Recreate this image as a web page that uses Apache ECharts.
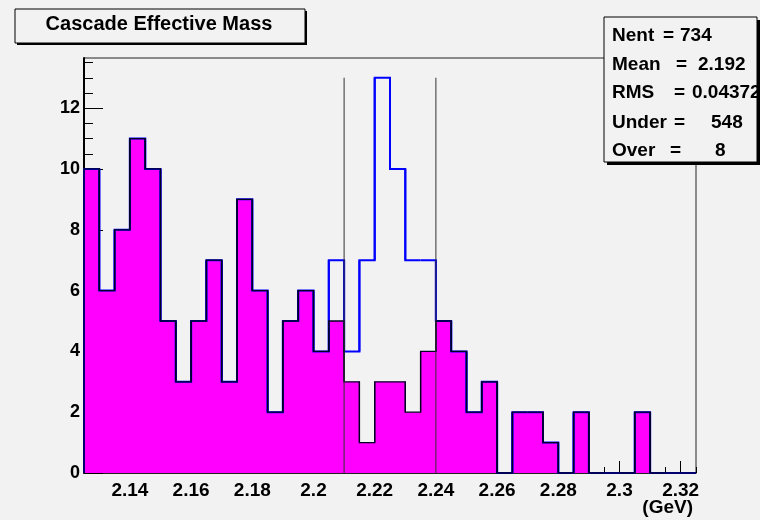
<!DOCTYPE html>
<html><head><meta charset="utf-8">
<script src="https://cdn.jsdelivr.net/npm/echarts@6/dist/echarts.min.js"></script>
<style>html,body{margin:0;padding:0;background:#f2f2f2}#c{width:760px;height:520px}</style>
</head><body><div id="c"></div>
<script>
// ---- data ----
const binStart = 2.125;
const binWidth = 0.005;
const sidebandCounts = [10,6,8,11,10,5,3,5,7,3,9,6,2,5,6,4,5,3,1,3,3,2,4,5,4,2,3,0,2,2,1,0,2,0,0,0,2,0,0,0];
const allCounts      = [10,6,8,11,10,5,3,5,7,3,9,6,2,5,6,4,7,4,7,13,10,7,7,5,4,2,3,0,2,2,1,0,2,0,0,0,2,0,0,0];
const cutLines = [2.21, 2.24];
const cutHeight = 13;
const xTickLabels = [2.14,2.16,2.18,2.2,2.22,2.24,2.26,2.28,2.3,2.32];
const yTickLabels = [0,2,4,6,8,10,12];
const xMin = 2.125, xMax = 2.325, yMax = 13.65;
const titleText = 'Cascade Effective Mass';
const statsLabels = ['Nent','Mean','RMS','Under','Over'];
const statsValues = ['734','2.192','0.04372','548','8'];
const axisUnit = '(GeV)';

// ---- derived ----
const nBins = allCounts.length;
const edge = i => Math.round((binStart + i*binWidth)*1e6)/1e6;
function histData(counts){
  return counts.map((v,i)=>[edge(i), edge(i+1), v, i+1<counts.length?counts[i+1]:0, i>0?counts[i-1]:0]);
}
const xMinor = []; for(let i=0;i<=nBins;i++) xMinor.push(edge(i));
const yMinor = []; for(let i=0;i<=27;i++) yMinor.push(i*0.5);

const FONT = '"Liberation Sans", Arial, sans-serif';

function fillItem(params, api){
  if (api.value(2) <= 0) return null;
  const p0 = api.coord([api.value(0), api.value(2)]);
  const p1 = api.coord([api.value(1), 0]);
  return {type:'rect', shape:{x:p0[0]-0.5, y:p0[1], width:p1[0]-p0[0]+1, height:p1[1]-p0[1]},
          style:{fill:'#ff00ff', stroke:null}};
}
function outlineItem(color, width){
  return function(params, api){
    const x0=api.value(0), x1=api.value(1), v=api.value(2), vn=api.value(3), vp=api.value(4);
    const pts=[api.coord([x0,vp]), api.coord([x0,v]), api.coord([x1,v]), api.coord([x1,vn])];
    return {type:'polyline', shape:{points:pts}, style:{stroke:color, lineWidth:width, fill:null}};
  };
}
function cutItem(params, api){
  const a = api.coord([api.value(0), 0]);
  const b = api.coord([api.value(0), api.value(1)]);
  return {type:'line', shape:{x1:a[0], y1:a[1], x2:b[0], y2:b[1]}, style:{stroke:'#333', lineWidth:1}};
}

const statsLayout = [
  {eq:663, val:680, y:36},
  {eq:676, val:698, y:65},
  {eq:674, val:692, y:93},
  {eq:674, val:711, y:123},
  {eq:670, val:715, y:151}
];
const graphics = [
  // title box
  {type:'rect', shape:{x:17, y:11, width:290, height:34}, style:{fill:'#000'}, z:100},
  {type:'rect', shape:{x:15, y:9, width:290, height:34}, style:{fill:'#f2f2f2', stroke:'#000', lineWidth:1}, z:101},
  {type:'text', x:159, y:24, style:{text:titleText, font:'bold 20px '+FONT, fill:'#000', textAlign:'center', textVerticalAlign:'middle'}, z:102},
  // stats box
  {type:'rect', shape:{x:607, y:20, width:153, height:145}, style:{fill:'#000'}, z:100},
  {type:'rect', shape:{x:604, y:17, width:153, height:145}, style:{fill:'#f2f2f2'}, z:101},
  {type:'text', x:693, y:508, style:{text:axisUnit, font:'bold 19px '+FONT, fill:'#000', textAlign:'right', textVerticalAlign:'middle'}, z:102}
];
statsLabels.forEach((lab,i)=>{
  const L = statsLayout[i];
  graphics.push({type:'text', x:612, y:L.y, style:{text:lab, font:'bold 19px '+FONT, fill:'#000', textAlign:'left', textVerticalAlign:'middle'}, z:102});
  graphics.push({type:'text', x:L.eq, y:L.y, style:{text:'=', font:'bold 19px '+FONT, fill:'#000', textAlign:'left', textVerticalAlign:'middle'}, z:102});
  graphics.push({type:'text', x:L.val, y:L.y, style:{text:statsValues[i], font:'bold 19px '+FONT, fill:'#000', textAlign:'left', textVerticalAlign:'middle'}, z:102});
});
graphics.push({type:'rect', shape:{x:757.5, y:20, width:3, height:145}, style:{fill:'#000'}, z:103});
graphics.push({type:'rect', shape:{x:604, y:17, width:153, height:145}, style:{fill:null, stroke:'#000', lineWidth:1}, z:103});

const chart = echarts.init(document.getElementById('c'), null, {renderer:'canvas'});
chart.setOption({
  animation:false,
  backgroundColor:'#f2f2f2',
  grid:{left:84, right:64, top:58, bottom:47, show:true, borderColor:'#222', borderWidth:1, backgroundColor:'transparent', outerBoundsMode:'none'},
  xAxis:[
    {type:'value', min:xMin, max:xMax, position:'bottom',
     axisLine:{show:true, onZero:false, lineStyle:{color:'#000', width:1.5}},
     axisTick:{show:true, inside:true, length:12, customValues:xTickLabels, lineStyle:{color:'#000', width:1}},
     axisLabel:{show:true, customValues:xTickLabels, margin:8, color:'#000', fontWeight:'bold', fontSize:19, fontFamily:FONT,
                formatter:v=>String(+v.toFixed(3))},
     splitLine:{show:false}},
    {type:'value', min:xMin, max:xMax, position:'bottom', offset:0,
     axisLine:{show:false},
     axisTick:{show:true, inside:true, length:6, customValues:xMinor, lineStyle:{color:'#000', width:1}},
     axisLabel:{show:false}, splitLine:{show:false}}
  ],
  yAxis:[
    {type:'value', min:0, max:yMax, position:'left',
     axisLine:{show:true, onZero:false, lineStyle:{color:'#000', width:2}},
     axisTick:{show:true, inside:true, length:19, customValues:yTickLabels, lineStyle:{color:'#000', width:1}},
     axisLabel:{show:true, customValues:yTickLabels, margin:4, color:'#000', fontWeight:'bold', fontSize:18, fontFamily:FONT},
     splitLine:{show:false}},
    {type:'value', min:0, max:yMax, position:'left', offset:0,
     axisLine:{show:false},
     axisTick:{show:true, inside:true, length:9, customValues:yMinor, lineStyle:{color:'#000', width:1}},
     axisLabel:{show:false}, splitLine:{show:false}}
  ],
  series:[
    {type:'custom', name:'sideband fill', xAxisIndex:0, yAxisIndex:0, data:histData(sidebandCounts), renderItem:fillItem, z:2, encode:{x:[0,1], y:2}},
    {type:'custom', name:'all', xAxisIndex:0, yAxisIndex:0, data:histData(allCounts), renderItem:outlineItem('#0000ff',2), z:3, encode:{x:[0,1], y:2}},
    {type:'custom', name:'sideband outline', xAxisIndex:0, yAxisIndex:0, data:histData(sidebandCounts), renderItem:outlineItem('#000022',1.3), z:4, encode:{x:[0,1], y:2}},
    {type:'custom', name:'cuts', xAxisIndex:0, yAxisIndex:0, data:cutLines.map(c=>[c, cutHeight]), renderItem:cutItem, z:5, encode:{x:0, y:1}}
  ],
  graphic:{elements:graphics}
});
</script>
</body></html>
